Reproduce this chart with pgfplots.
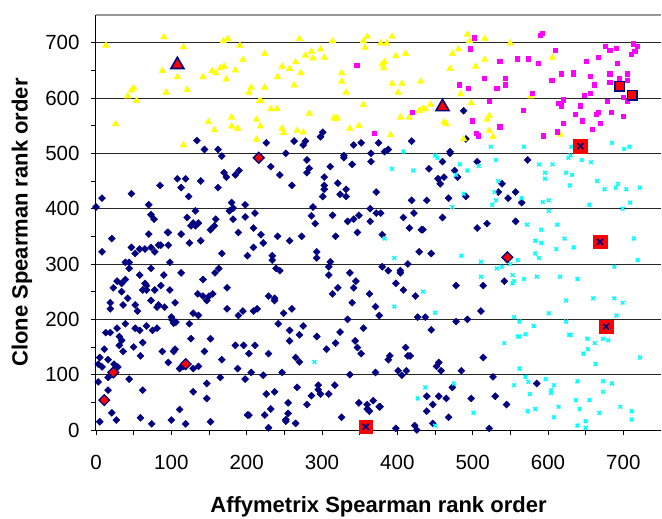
\documentclass[border=0pt]{standalone}
\usepackage{fontspec}
\setmainfont{Liberation Sans}
\usepackage{pgfplots}
\pgfplotsset{compat=1.18}
\definecolor{navyc}{RGB}{0,0,128}
\definecolor{cyanc}{RGB}{0,255,255}
\definecolor{yellowc}{RGB}{255,255,0}
\definecolor{magentac}{RGB}{255,0,255}
\definecolor{redc}{RGB}{255,0,0}
\begin{document}
\begin{tikzpicture}
\begin{axis}[
  scale only axis, width=565pt, height=415pt,
  xmin=0, xmax=750, ymin=0, ymax=750,
  axis x line*=bottom, axis y line*=left,
  axis line style={-, black, line width=1pt},
  xtick={0,100,...,700}, ytick={0,100,...,700},
  minor tick num=1,
  tick align=outside,
  major tick length=5pt, minor tick length=5pt,
  tick style={black, line width=0.8pt},
  ymajorgrids, major grid style={black!85, line width=0.8pt},
  /pgf/number format/assume math mode=true,
  tick label style={font=\fontsize{20.5}{22}\selectfont},
  yticklabel style={anchor=east, xshift=-8pt},
  xticklabel style={anchor=north, yshift=-17pt},
  xlabel={\bfseries Affymetrix Spearman rank order},
  ylabel={\bfseries Clone Spearman rank order},
  label style={font=\fontsize{22}{24}\selectfont},
  xlabel style={at={(axis description cs:0.5,0)}, anchor=center, yshift=-77pt},
  ylabel style={at={(axis description cs:0,0.5)}, anchor=center, yshift=74pt},
  clip=false,
]
\draw[black!40, line width=2pt] (rel axis cs:0,1) -- (rel axis cs:1,1);
% navy diamonds
\addplot[only marks, mark=square*, mark size=2.5pt, mark options={rotate=45, fill=navyc, draw=navyc}] coordinates {
(134,523)(144,507)(162,507)(167,495)(170,465)(173,457)(185,461)(190,469)(108,454)(119,454)(139,450)(113,438)(162,438)(85,442)(47,427)(8,419)(0,403)(123,422)(70,407)(73,389)(77,381)(132,396)(121,384)(177,396)(182,401)(180,411)(159,381)(182,381)
(8,322)(21,346)(47,330)(52,319)(58,327)(65,327)(70,354)(73,330)(78,322)(83,334)(86,334)(95,357)(96,357)(96,334)(98,303)(113,354)(124,338)(126,369)(129,374)(132,369)(136,374)(139,342)(152,362)(157,369)(167,319)(189,357)(39,303)(44,303)(44,292)(58,280)(73,292)(90,280)(113,284)(142,272)(158,284)(163,292)(28,269)(34,265)(39,272)(23,257)(34,250)(42,238)(36,226)(19,230)(19,219)(52,226)(55,215)(62,253)(65,265)(67,261)(67,253)(73,234)(78,253)(81,222)(83,226)(86,261)(91,222)(98,253)(105,230)(129,211)(136,207)(135,246)(142,242)(147,234)(150,242)(155,246)(174,257)(174,219)(189,207)(100,204)(101,199)(106,195)(103,193)(13,176)(19,176)(28,184)(39,192)(52,184)(58,180)(67,188)(75,180)(81,184)(31,169)(34,162)(31,153)(36,142)(11,146)(5,131)(3,119)(8,114)(16,127)(24,119)(29,114)(16,95)(3,87)(44,92)(50,150)(62,158)(59,134)(88,142)(96,122)(103,142)(105,146)(111,111)(116,115)(129,111)(136,115)(126,165)(124,192)(144,142)(152,165)(167,127)(185,153)(188,111)(165,95)(147,84)(147,57)(129,69)(62,72)(16,72)(21,31)(27,18)(5,15)(59,22)(74,11)(100,18)(111,37)(119,11)(152,15)
(226,519)(263,522)(278,522)(275,515)(298,530)(301,538)(252,500)(342,515)(352,519)(375,519)(365,500)(383,503)(329,496)(329,492)(280,488)(340,480)(365,485)(311,476)(232,476)(244,461)(283,473)(280,465)(303,457)(260,442)(303,442)(303,435)(321,446)(332,435)(324,426)(332,422)(301,422)(372,430)(288,403)(198,407)(364,400)(198,385)(211,392)(286,387)(314,388)(291,373)(334,377)(342,381)(349,388)(364,377)(372,392)(378,392)
(209,365)(219,353)(222,338)(209,330)(201,315)(241,350)(257,342)(273,350)(293,322)(293,311)(234,315)(234,307)(239,292)(244,288)(318,350)(347,357)(380,353)(380,295)(311,304)(309,295)(309,280)(337,284)(345,269)(342,257)(321,257)(314,246)(363,246)(340,230)(371,223)(376,207)(229,242)(237,238)(237,234)(260,219)(249,211)(214,219)(209,215)(195,215)(334,200)(242,192)(257,180)(275,188)(270,172)(257,161)(293,169)(324,177)(355,184)(344,161)(347,149)(352,138)(318,157)(306,146)(196,153)(211,153)(203,138)(229,138)(265,131)(270,123)(206,104)(222,99)(247,104)(337,100)(371,104)(198,92)(267,77)(295,81)(295,73)(298,65)(309,65)(317,81)(286,62)(280,46)(226,65)(237,69)(255,49)(255,30)(252,19)(252,16)(265,12)(232,38)(224,27)(201,27)(203,27)(229,4)(326,23)(349,49)(360,46)(360,38)(363,34)(368,53)(376,42)
(488,577)(491,526)(419,522)(388,507)(470,503)(470,500)(460,485)(442,472)(476,469)(480,457)(462,457)(454,454)(457,445)(506,485)(573,488)(539,445)(534,430)(547,419)(557,430)(565,411)(491,422)(468,419)(439,415)(419,415)(408,384)(422,392)(460,384)(519,373)(557,377)
(416,365)(432,362)(434,362)(506,365)(429,322)(445,319)(388,288)(404,288)(404,284)(414,300)(398,265)(408,253)(424,242)(478,261)(514,261)(542,269)(511,215)(427,204)(437,204)(478,196)(493,200)(445,181)(411,149)(390,134)(388,127)(414,134)(417,134)(514,131)(455,122)(452,115)(458,107)(401,107)(406,99)(412,107)(485,107)(527,96)(473,77)(439,61)(455,61)(465,57)(447,46)(439,34)(468,23)(498,57)(530,61)(545,46)(447,12)(423,8)(426,0)(398,3)(522,3)(377,42)(585,84)
};
% cyan crosses
\addplot[only marks, mark=x, mark size=2.6pt, mark options={draw=cyanc, line width=1.5pt}] coordinates {
(290,123)
(408,503)(393,472)(421,469)(450,496)(453,492)(483,480)(493,469)(508,477)(531,488)(524,512)(568,512)(478,461)(534,450)(529,430)(531,415)(526,407)(488,427)(473,403)(565,419)(572,371)
(631,512)(685,519)(701,508)(708,512)(627,492)(630,496)(645,488)(657,484)(588,480)(606,480)(596,465)(596,454)(624,465)(632,461)(629,442)(665,450)(675,435)(690,438)(693,445)(704,435)(722,438)(593,412)(601,415)(601,396)(655,407)(699,400)(709,411)(612,371)
(383,346)(396,311)(485,315)(511,304)(532,292)(539,295)(550,300)(560,307)(553,280)(553,265)(555,269)(568,273)(511,277)(434,250)(396,223)(450,212)(555,204)(562,196)(562,169)(560,169)(570,173)(542,157)(562,111)(570,96)(574,87)(555,81)(475,84)(437,77)(427,57)(501,31)(450,8)(576,65)(573,34)
(591,362)(583,342)(591,338)(622,346)(634,330)(611,327)(583,319)(588,311)(676,334)(714,346)(719,307)(688,295)(585,277)(616,277)(639,273)(624,234)(660,238)(688,238)(699,230)(601,211)(691,207)(624,196)(581,188)(628,172)(630,172)(652,165)(673,165)(680,162)(662,157)(653,146)(647,138)(722,131)(663,119)(597,92)(608,81)(604,72)(604,67)(639,88)(673,88)(685,84)(673,69)(637,54)(655,54)(696,42)(614,42)(583,38)(642,38)(668,31)(711,34)(711,19)(608,23)(639,8)(650,16)(650,4)
};
% yellow triangles
\addplot[only marks, mark=triangle*, mark size=3.8pt, mark options={fill=yellowc, draw=yellowc}] coordinates {
(13,695)(90,710)(116,692)(88,649)(108,638)(93,610)(121,615)(142,638)(154,649)(159,645)(165,654)(170,657)(173,634)(185,650)(169,703)(175,707)(191,695)(42,603)(47,614)(50,618)(54,595)(26,553)(116,515)(149,557)(157,542)(180,565)(180,549)(188,545)
(270,707)(314,703)(355,703)(360,711)(357,691)(378,699)(195,669)(224,680)(247,657)(257,653)(265,665)(272,645)(278,677)(286,684)(288,672)(298,688)(303,673)(241,638)(263,623)(326,645)(326,630)(332,610)(380,661)(382,654)(206,619)(203,610)(224,619)(217,595)(219,595)(232,580)(240,580)(283,572)(318,562)(316,564)(320,564)(213,561)(218,549)(213,525)(247,545)(249,537)(267,541)(275,538)(337,545)(349,550)(355,588)
(393,711)(386,699)(398,676)(411,680)(383,665)(393,626)(406,626)(401,610)(431,630)(470,653)(473,680)(481,688)(493,715)(496,703)(516,707)(550,699)(504,657)(516,669)(484,607)(498,591)(444,588)(429,577)(437,580)(433,580)(416,565)(404,565)(391,533)(462,556)(465,553)(519,561)(522,568)(522,541)(527,530)(488,526)(577,603)
(606,673)(616,534)
};
% magenta squares
\addplot[only marks, mark=square*, mark size=2.1pt, mark options={fill=magentac, draw=magentac}] coordinates {
(346,659)(369,536)
(502,709)(497,689)(559,671)(574,671)(536,667)(515,636)(543,636)(543,624)(482,624)(494,617)(532,617)(522,594)(567,578)(420,574)(499,559)(536,548)(505,536)(507,532)
(590,713)(592,717)(610,686)(587,663)(605,632)(618,644)(633,647)(633,644)(651,667)(656,640)(667,674)(661,624)(676,694)(682,686)(690,690)(692,663)(682,644)(682,628)(694,636)(705,644)(705,632)(710,679)(713,698)(715,684)(718,694)(579,609)(648,605)(656,609)(614,590)(618,586)(620,597)(643,586)(636,571)(645,559)(664,571)(667,574)(679,594)(684,574)(669,555)(700,567)(705,594)(700,601)(620,555)(612,539)(659,544)(594,532)
};
% highlighted points
\addplot[only marks, mark=square*, mark size=3.8pt, mark options={rotate=45, fill=redc, draw=navyc, line width=1.3pt}] coordinates {
(11,54)(23,104)(119,119)(216,492)(546,312)
};
\addplot[only marks, mark=triangle*, mark size=7.5pt, mark options={fill=redc, draw=navyc, line width=1.6pt}] coordinates {
(108,660)(460,584)
};
\addplot[only marks, mark=square*, mark size=4.8pt, mark options={fill=redc, draw=navyc, line width=1.6pt}] coordinates {
(695,621)(712,605)
};
\addplot[only marks, mark=square*, mark size=6.8pt, mark options={fill=redc, draw=redc}] coordinates {
(358,6)(643,513)(669,340)(677,187)
};
\addplot[only marks, mark=x, mark size=4.2pt, mark options={draw=navyc, line width=1.6pt}] coordinates {
(358,6)(643,513)(669,340)(677,187)
};
\end{axis}
\pgfresetboundingbox
\path ([shift={(-96pt,-88pt)}]current axis.south west) rectangle ([shift={(1pt,15pt)}]current axis.north east);
\end{tikzpicture}
\end{document}
